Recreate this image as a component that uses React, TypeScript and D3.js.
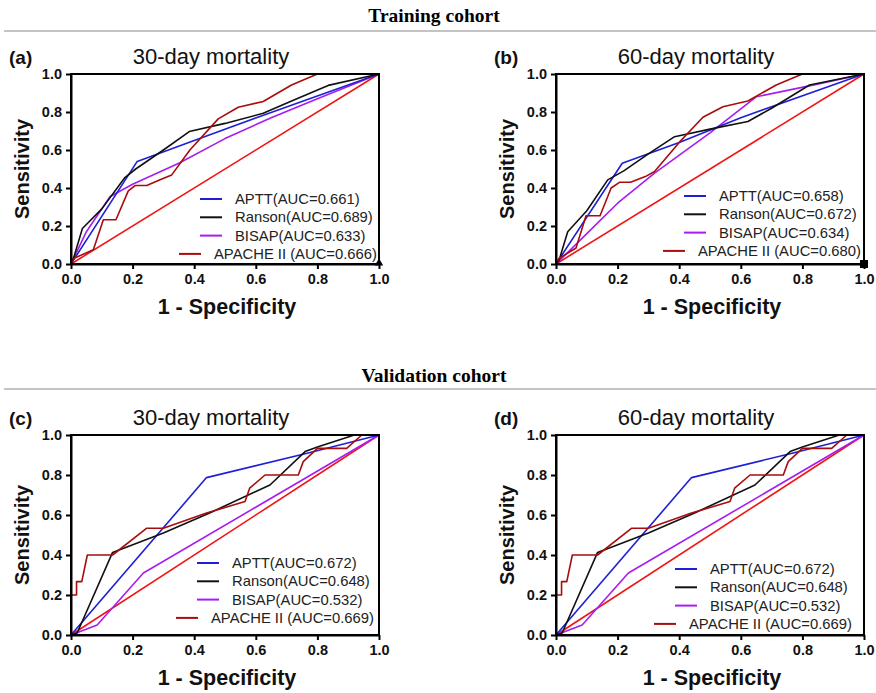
import * as d3 from "d3";
import { useEffect, useRef } from "react";

// ROC points as [1 - specificity, sensitivity]
const apttA = [[0, 0], [0.215, 0.54], [0.4, 0.65], [0.62, 0.78], [1, 1]];
const ransonA = [[0, 0], [0.01, 0.04], [0.037, 0.187], [0.1, 0.29], [0.175, 0.455], [0.21, 0.5], [0.3, 0.6], [0.384, 0.697], [0.5, 0.74], [0.624, 0.793], [0.72, 0.86], [0.835, 0.94], [1, 1]];
const bisapA = [[0, 0], [0.05, 0.17], [0.127, 0.355], [0.2, 0.42], [0.35, 0.53], [0.5, 0.66], [0.65, 0.77], [0.8, 0.87], [1, 1]];
const apacheA = [[0, 0], [0.01, 0.03], [0.0725, 0.075], [0.105, 0.233], [0.146, 0.233], [0.186, 0.385], [0.208, 0.413], [0.246, 0.413], [0.289, 0.443], [0.327, 0.469], [0.386, 0.6], [0.478, 0.764], [0.543, 0.825], [0.624, 0.855], [0.716, 0.942], [0.8, 1], [1, 1]];

const apttB = [[0, 0], [0.215, 0.53], [0.4, 0.64], [0.6, 0.77], [1, 1]];
const ransonB = [[0, 0], [0.01, 0.02], [0.038, 0.17], [0.1, 0.28], [0.168, 0.443], [0.22, 0.49], [0.3, 0.58], [0.385, 0.67], [0.5, 0.71], [0.623, 0.75], [0.7, 0.82], [0.823, 0.942], [1, 1]];
const bisapB = [[0, 0], [0.1, 0.16], [0.2, 0.32], [0.32, 0.478], [0.5, 0.69], [0.65, 0.88], [0.83, 0.94], [1, 1]];
const apacheB = [[0, 0], [0.01, 0.03], [0.065, 0.084], [0.0975, 0.254], [0.143, 0.254], [0.179, 0.4], [0.206, 0.43], [0.242, 0.43], [0.29, 0.46], [0.32, 0.487], [0.4, 0.64], [0.477, 0.772], [0.542, 0.828], [0.623, 0.858], [0.715, 0.942], [0.8, 1], [1, 1]];

const apttC = [[0, 0], [0.44, 0.787], [0.77, 0.91], [1, 1]];
const ransonC = [[0, 0], [0.02, 0.01], [0.135, 0.413], [0.3, 0.51], [0.45, 0.61], [0.646, 0.75], [0.76, 0.917], [0.8, 0.94], [0.92, 1], [1, 1]];
const bisapC = [[0, 0], [0.085, 0.05], [0.235, 0.31], [1, 1]];
const apacheC = [[0, 0], [0, 0.2], [0.018, 0.2], [0.018, 0.267], [0.035, 0.267], [0.053, 0.4], [0.135, 0.4], [0.246, 0.534], [0.3, 0.534], [0.44, 0.61], [0.565, 0.667], [0.58, 0.734], [0.63, 0.8], [0.738, 0.8], [0.754, 0.867], [0.8, 0.933], [0.895, 0.933], [0.944, 1], [1, 1]];

const refLine = [[0, 0], [1, 1]];

const legendA = ["APTT(AUC=0.661)", "Ranson(AUC=0.689)", "BISAP(AUC=0.633)", "APACHE II (AUC=0.666)"];
const legendB = ["APTT(AUC=0.658)", "Ranson(AUC=0.672)", "BISAP(AUC=0.634)", "APACHE II (AUC=0.680)"];
const legendC = ["APTT(AUC=0.672)", "Ranson(AUC=0.648)", "BISAP(AUC=0.532)", "APACHE II (AUC=0.669)"];

const tickValues = [0, 0.2, 0.4, 0.6, 0.8, 1.0];
const colors = ["#1f1fd6", "#111111", "#a81cf0", "#a80c0c"];

const panels = [
  { tag: "(a)", title: "30-day mortality", data: [apttA, ransonA, bisapA, apacheA], legend: legendA,
    left: 71, right: 379, top: 74, bottom: 264, lx: 200, ly: 199, mark: "triangle" },
  { tag: "(b)", title: "60-day mortality", data: [apttB, ransonB, bisapB, apacheB], legend: legendB,
    left: 556, right: 864, top: 74, bottom: 264, lx: 684, ly: 196, mark: "square" },
  { tag: "(c)", title: "30-day mortality", data: [apttC, ransonC, bisapC, apacheC], legend: legendC,
    left: 71, right: 379, top: 435, bottom: 635, lx: 197, ly: 563, mark: null },
  { tag: "(d)", title: "60-day mortality", data: [apttC, ransonC, bisapC, apacheC], legend: legendC,
    left: 556, right: 864, top: 435, bottom: 635, lx: 675, ly: 569, mark: null },
];

const SANS = "Arial, 'Liberation Sans', sans-serif";
const SERIF = "'Times New Roman', 'Liberation Serif', serif";

export default function App() {
  const ref = useRef<SVGSVGElement>(null);

  useEffect(() => {
    const svg = d3.select(ref.current);
    svg.selectAll("*").remove();

    // cohort headers
    const headers = [["Training cohort", 22, 31], ["Validation cohort", 382, 389]];
    headers.forEach(([t, ty, ly]) => {
      svg.append("text").attr("x", 434).attr("y", ty).attr("text-anchor", "middle")
        .attr("font-family", SERIF).attr("font-weight", "bold").attr("font-size", 19.5).text(t as string);
      svg.append("line").attr("x1", 4).attr("x2", 876).attr("y1", ly).attr("y2", ly)
        .attr("stroke", "#8a8a8a").attr("stroke-width", 1.2);
    });

    panels.forEach((p) => {
      const x = d3.scaleLinear().domain([0, 1]).range([p.left, p.right]);
      const y = d3.scaleLinear().domain([0, 1]).range([p.bottom, p.top]);
      const g = svg.append("g");
      const line = d3.line<number[]>().x((d) => x(d[0])).y((d) => y(d[1]));

      g.append("path").attr("d", line(refLine)).attr("fill", "none")
        .attr("stroke", "#f01414").attr("stroke-width", 1.6);

      [2, 0, 1, 3].forEach((i) => {
        g.append("path").attr("d", line(p.data[i])).attr("fill", "none")
          .attr("stroke", colors[i]).attr("stroke-width", 1.6).attr("stroke-linejoin", "round");
      });

      // frame
      g.append("rect").attr("x", x(0)).attr("y", y(1)).attr("width", x(1) - x(0)).attr("height", y(0) - y(1))
        .attr("fill", "none").attr("stroke", "#000").attr("stroke-width", 2);

      const xAxis = g.append("g").attr("transform", `translate(0,${p.bottom})`)
        .call(d3.axisBottom(x).tickValues(tickValues).tickFormat(d3.format(".1f")).tickSize(5).tickSizeOuter(0));
      const yAxis = g.append("g").attr("transform", `translate(${p.left},0)`)
        .call(d3.axisLeft(y).tickValues(tickValues).tickFormat(d3.format(".1f")).tickSize(5).tickSizeOuter(0));
      [xAxis, yAxis].forEach((a) => {
        a.select(".domain").attr("stroke-width", 2);
        a.selectAll(".tick line").attr("stroke-width", 2);
        a.selectAll(".tick text").attr("font-family", SANS).attr("font-weight", "bold")
          .attr("font-size", 14.5).attr("fill", "#111");
      });
      xAxis.selectAll(".tick text").attr("dy", "0.85em");
      yAxis.selectAll(".tick text").attr("dx", "-1px");

      // markers at (1,0)
      if (p.mark === "square") {
        g.append("rect").attr("x", x(1) - 4).attr("y", y(0) - 4).attr("width", 8).attr("height", 8).attr("fill", "#000");
      } else if (p.mark === "triangle") {
        g.append("path").attr("d", d3.symbol(d3.symbolTriangle, 30)()).attr("transform", `translate(${x(1)},${y(0) - 1})`).attr("fill", "#000");
      }

      // titles and labels
      g.append("text").attr("x", (p.left + p.right) / 2 - 14).attr("y", p.top - 10).attr("text-anchor", "middle")
        .attr("font-family", SANS).attr("font-size", 22).attr("fill", "#111").text(p.title);
      g.append("text").attr("x", p.left - 62).attr("y", p.top - 10)
        .attr("font-family", SANS).attr("font-weight", "bold").attr("font-size", 19).attr("fill", "#111").text(p.tag);
      g.append("text").attr("x", (p.left + p.right) / 2 + 2).attr("y", p.bottom + 50).attr("text-anchor", "middle")
        .attr("font-family", SANS).attr("font-weight", "bold").attr("font-size", 21.5).attr("fill", "#111").text("1 - Specificity");
      g.append("text").attr("transform", `translate(${p.left - 42},${(p.top + p.bottom) / 2}) rotate(-90)`)
        .attr("text-anchor", "middle").attr("font-family", SANS).attr("font-weight", "bold").attr("font-size", 20)
        .attr("fill", "#111").text("Sensitivity");

      // legend
      p.legend.forEach((label, i) => {
        const yy = p.ly + i * 18.3;
        const shift = i === 3 ? -21 : 0;
        g.append("line").attr("x1", p.lx + shift).attr("x2", p.lx + shift + 22).attr("y1", yy).attr("y2", yy)
          .attr("stroke", colors[i]).attr("stroke-width", 2);
        g.append("text").attr("x", p.lx + shift + 35).attr("y", yy).attr("dy", "0.35em")
          .attr("font-family", SANS).attr("font-size", 14.8).attr("fill", "#222").text(label);
      });
    });
  }, []);

  return (
    <svg ref={ref} width={876} height={693} style={{ position: "absolute", left: 0, top: 0, background: "#fff" }} />
  );
}
